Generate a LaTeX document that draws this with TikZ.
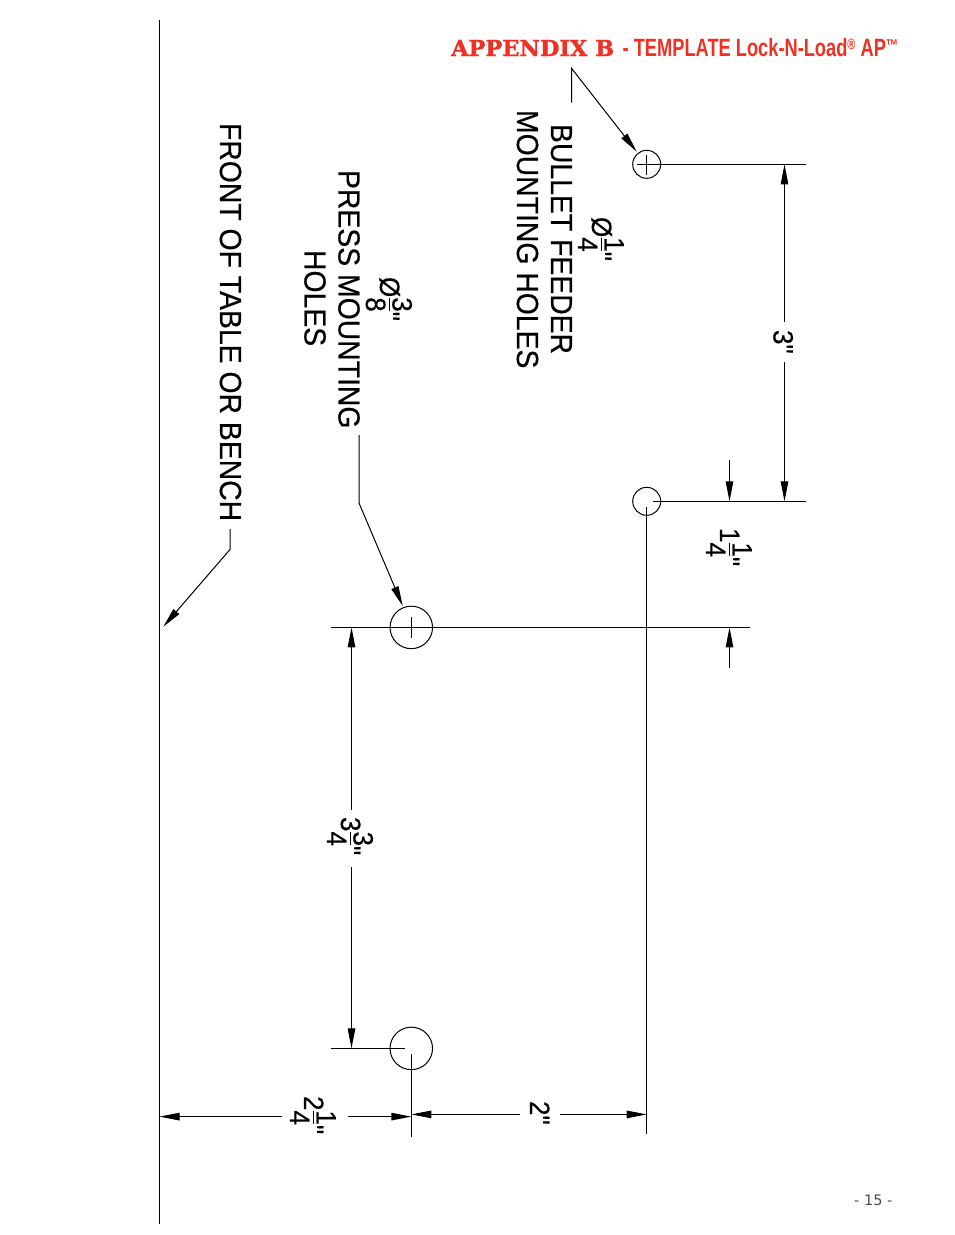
\documentclass[tikz,border=0pt]{standalone}
\usepackage{fontspec}
\usetikzlibrary{arrows.meta}
\newfontfamily\plainf[FakeStretch=0.93,FakeBold=0.35]{Liberation Sans}
\newfontfamily\slabfont[FakeStretch=1.02,FakeBold=1.6]{DejaVu Serif Bold}
\newfontfamily\condfont[FakeStretch=0.73]{Liberation Sans Bold}
\newfontfamily\pagefont{DejaVu Sans}
\newcommand\stk[2]{\ooalign{\hfil\raisebox{12.5pt}{#1}\hfil\cr\hfil\raisebox{8.5pt}{\rule{12.5pt}{0.8pt}}\hfil\cr\hfil\raisebox{-14pt}{#2}\hfil\cr}}
\definecolor{headred}{HTML}{EE3124}
\tikzset{
  x=1pt,y=-1pt,
  line/.style={line width=1pt,black},
  dim/.style={line,-{Triangle[length=20pt,width=7.5pt]},shorten >=0pt},
  lbl/.style={anchor=base west,rotate=-90,inner sep=0pt,outer sep=0pt,font=\fontsize{30.5}{32}\plainf},
  num/.style={anchor=base west,rotate=-90,inner sep=0pt,outer sep=0pt,font=\fontsize{28}{30}\plainf},
  hole/.style={circle,draw,line width=1pt,inner sep=0pt},
}
\begin{document}
\begin{tikzpicture}
\useasboundingbox (0,0) rectangle (954,1235);
\coordinate (edgeT) at (159.5,20);
\coordinate (edgeB) at (159.5,1224);
\draw[line] (edgeT) -- (edgeB);
% header
\node[anchor=base west,inner sep=0pt,text=headred,font=\fontsize{22}{24}\slabfont] (hA) at (451,56) {APPENDIX B};
\node[anchor=base west,inner sep=0pt,text=headred,font=\fontsize{25}{26}\condfont] (hB) at (622.5,56) {- TEMPLATE Lock-N-Load\raisebox{7pt}{\fontsize{15}{15}\selectfont ®} AP\raisebox{5pt}{\fontsize{17}{17}\selectfont ™}};
% page number
\node[anchor=base west,inner sep=0pt,text=black!70,font=\fontsize{14.5}{16}\pagefont] (pg) at (854,1205.5) {- 15 -};
% holes
\node[hole,minimum size=28pt] (h1) at (646.7,164.3) {};
\node[hole,minimum size=28pt] (h2) at (646.7,501.3) {};
\node[hole,minimum size=42.5pt] (h3) at (411.3,627.4) {};
\node[hole,minimum size=42.5pt] (h4) at (411.3,1048.4) {};
% extension lines
\coordinate (e1a) at (637,164.3); \coordinate (e1b) at (805.5,164.3);
\draw[line] (e1a) -- (e1b);
\coordinate (c1a) at (646.7,155); \coordinate (c1b) at (646.7,175);
\draw[line] (c1a) -- (c1b);
\coordinate (e2a) at (653.3,501.3); \coordinate (e2b) at (805.5,501.3);
\draw[line] (e2a) -- (e2b);
\coordinate (e2c) at (646.7,507.3); \coordinate (e2d) at (646.7,1134);
\draw[line] (e2c) -- (e2d);
\coordinate (e3a) at (330.7,627.4); \coordinate (e3b) at (750,627.4);
\draw[line] (e3a) -- (e3b);
\coordinate (c3a) at (411.3,617); \coordinate (c3b) at (411.3,638);
\draw[line] (c3a) -- (c3b);
\coordinate (e4a) at (330.7,1048.4); \coordinate (e4b) at (405,1048.4);
\draw[line] (e4a) -- (e4b);
\coordinate (e4c) at (411.3,1054.3); \coordinate (e4d) at (411.3,1136.7);
\draw[line] (e4c) -- (e4d);
% 3"
\node[num] (d3) at (773.5,330) {3"};
\coordinate (a1) at (784.5,322); \coordinate (a1t) at (784.5,164.3);
\coordinate (a2) at (784.5,362); \coordinate (a2t) at (784.5,501.3);
\draw[dim] (a1) -- (a1t); \draw[dim] (a2) -- (a2t);
% 1 1/4"
\node[num] (d114) at (720,528) {1\stk{1}{4}"};
\coordinate (b1) at (729.5,460); \coordinate (b1t) at (729.5,501.3);
\coordinate (b2) at (729.5,668); \coordinate (b2t) at (729.5,627.4);
\draw[dim] (b1) -- (b1t); \draw[dim] (b2) -- (b2t);
% 3 3/4"
\node[num] (d334) at (341,817) {3\stk{3}{4}"};
\coordinate (f1) at (351.5,810); \coordinate (f1t) at (351.5,627.4);
\coordinate (f2) at (351.5,867); \coordinate (f2t) at (351.5,1048.4);
\draw[dim] (f1) -- (f1t); \draw[dim] (f2) -- (f2t);
% 2"
\node[num] (d2) at (530,1101) {2"};
\coordinate (g1) at (520,1114.4); \coordinate (g1t) at (411.3,1114.4);
\coordinate (g2) at (559.5,1114.4); \coordinate (g2t) at (646.7,1114.4);
\draw[dim] (g1) -- (g1t); \draw[dim] (g2) -- (g2t);
% 2 1/4"
\node[num] (d214) at (304,1096) {2\stk{1}{4}"};
\coordinate (k1) at (282,1116.6); \coordinate (k1t) at (159.5,1116.6);
\coordinate (k2) at (347.7,1116.6); \coordinate (k2t) at (411.3,1116.6);
\draw[dim] (k1) -- (k1t); \draw[dim] (k2) -- (k2t);
% labels
\node[lbl] (t1) at (220,123) {FRONT OF TABLE OR BENCH};
\node[lbl] (t2) at (338.5,170) {PRESS MOUNTING};
\node[lbl] (t3) at (304.5,250) {HOLES};
\node[num] (t4) at (380,277) {Ø\stk{3}{8}"};
\node[lbl] (t5) at (551,124) {BULLET FEEDER};
\node[lbl] (t6) at (517,110) {MOUNTING HOLES};
\node[num] (t7) at (592,217) {Ø\stk{1}{4}"};
% leaders
\coordinate (l1a) at (571.7,102.7); \coordinate (l1b) at (571.7,68.5); \coordinate (l1c) at (636.7,151.7);
\draw[dim] (l1a) -- (l1b) -- (l1c);
\coordinate (l2a) at (359,435); \coordinate (l2b) at (359,503); \coordinate (l2c) at (402.7,606);
\draw[dim] (l2a) -- (l2b) -- (l2c);
\coordinate (l3a) at (230,529); \coordinate (l3b) at (230,549.5); \coordinate (l3c) at (163.3,626.7);
\draw[dim] (l3a) -- (l3b) -- (l3c);
\end{tikzpicture}
\end{document}
